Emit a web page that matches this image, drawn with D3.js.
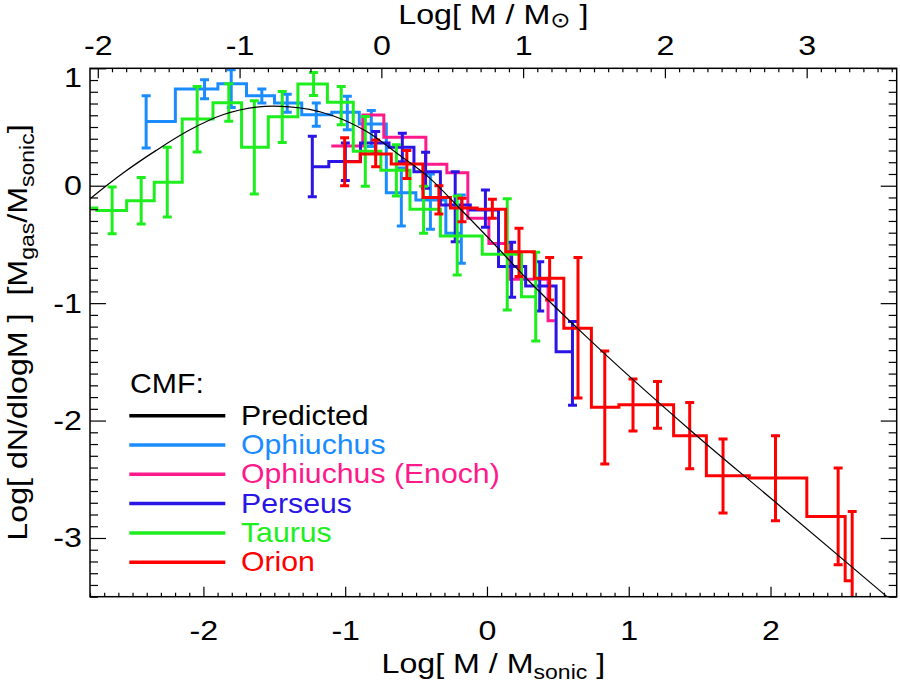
<!DOCTYPE html>
<html>
<head>
<meta charset="utf-8">
<script src="https://cdn.jsdelivr.net/npm/d3@7/dist/d3.min.js"></script>
<style>
  body { margin: 0; background: #fff; }
  svg { display: block; font-family: 'Liberation Sans', Arial, Helvetica, sans-serif; }
  text { white-space: pre; }
</style>
</head>
<body>
<svg id="chart" width="900" height="685"></svg>
<script>
// x: Log[M/Msonic] of each bin, y: Log[dN/dlogM], hi/lo: error bar ends
const ophX = [-2.404, -1.992, -1.804, -1.588, -1.409, -1.204, -0.985, -0.816, -0.604, -0.399, -0.181];
const ophY = [0.548, 0.823, 0.868, 0.766, 0.704, 0.604, 0.625, 0.525, -0.060, -0.122, -0.405];
const ophHi = [0.766, 0.902, 0.987, 0.823, 0.780, 0.704, 0.761, 0.641, 0.150, 0.100, -0.080];
const ophLo = [0.321, 0.740, 0.667, 0.704, 0.625, 0.506, 0.477, 0.335, -0.343, -0.370, -0.660];

const enoX = [-1.098, -0.950, -0.802, -0.653, -0.505, -0.357, -0.209, -0.061, 0.088, 0.236, 0.384, 0.478];
const enoY = [0.338, 0.338, 0.602, 0.412, 0.412, 0.182, 0.111, -0.277, -0.492, -0.797, -0.797, -1.149];

const perX = [-1.232, -0.999, -0.785, -0.597, -0.433, -0.224, -0.011, 0.174, 0.372, 0.603];
const perY = [0.162, 0.206, 0.363, 0.327, 0.119, -0.164, -0.207, -0.688, -0.854, -1.413];
const perHi = [0.421, 0.363, 0.461, 0.446, 0.284, 0.119, -0.037, -0.482, -0.647, -1.157];
const perLo = [-0.094, 0.044, 0.278, 0.204, -0.022, -0.477, -0.354, -0.950, -1.066, -1.870];

const tauX = [-2.860, -2.644, -2.439, -2.255, -2.044, -1.821, -1.641, -1.444, -1.223, -1.028, -0.858, -0.639, -0.447, -0.210, 0.143, 0.344];
const tauY = [-0.190, -0.210, -0.127, 0.029, 0.568, 0.707, 0.327, 0.587, 0.866, 0.710, 0.293, 0.132, -0.201, -0.428, -0.584, -0.945];
const tauHi = [0.010, -0.011, 0.071, 0.327, 0.846, 0.868, 0.723, 0.803, 0.965, 0.846, 0.590, 0.349, -0.005, -0.088, -0.110, -0.567];
const tauLo = [-0.390, -0.408, -0.326, -0.266, 0.287, 0.548, -0.071, 0.369, 0.769, 0.519, -0.005, -0.088, -0.405, -0.760, -1.058, -1.322];

const oriX = [-1.004, -0.785, -0.565, -0.339, -0.176, 0.038, 0.226, 0.442, 0.642, 0.831, 1.030, 1.203, 1.430, 1.665, 2.035, 2.477, 2.576];
const oriY = [0.204, 0.270, 0.185, -0.100, -0.190, -0.200, -0.562, -0.788, -1.214, -1.886, -1.866, -1.866, -2.130, -2.471, -2.490, -2.817, -3.364];
const oriHi = [0.409, 0.389, 0.300, 0.000, -0.107, -0.116, -0.363, -0.611, -0.611, -1.407, -1.645, -1.668, -1.847, -2.156, -2.130, -2.405, -2.774];
const oriLo = [0.000, 0.162, 0.062, -0.240, -0.306, -0.277, -0.774, -0.973, -1.807, -2.369, -2.088, -2.065, -2.411, -2.788, -2.854, -3.228, -3.900];

// predicted CMF
const predX = [-2.80, -2.569, -2.333, -2.098, -1.863, -1.627, -1.51, -1.392, -1.251, -1.087, -0.851, -0.616, -0.404, -0.193, 0.019, 0.289, 0.725, 1.43, 2.0, 2.822];
const predY = [-0.111, 0.106, 0.301, 0.474, 0.604, 0.670, 0.678, 0.672, 0.650, 0.596, 0.463, 0.259, 0.065, -0.192, -0.456, -0.803, -1.313, -2.078, -2.66, -3.5];

const xTicks = [-2, -1, 0, 1, 2];
const xTopTicks = [-2, -1, 0, 1, 2, 3];
const yTicks = [-3, -2, -1, 0, 1];
const legendNames = ['Predicted', 'Ophiuchus', 'Ophiuchus (Enoch)', 'Perseus', 'Taurus', 'Orion'];
const legendColors = ['#000000', '#1a8cff', '#ff1a8c', '#2a14e6', '#1eee1e', '#ff0000'];

// Log[Msonic / Msun]
const solarShift = 0.745;

const series = [
  { x: ophX, y: ophY, hi: ophHi, lo: ophLo, color: legendColors[1] },
  { x: enoX, y: enoY, color: legendColors[2] },
  { x: perX, y: perY, hi: perHi, lo: perLo, color: legendColors[3] },
  { x: tauX, y: tauY, hi: tauHi, lo: tauLo, color: legendColors[4] },
  { x: oriX, y: oriY, hi: oriHi, lo: oriLo, color: legendColors[5] }
];

const svg = d3.select('#chart');
const plotLeft = 90;
const plotRight = 896.7;
const plotTop = 68.3;
const plotBottom = 596.7;
const fontSize = 28;
const stretch = 'scale(1.15,1)';

const x = d3.scaleLinear().domain([-2.8, 2.89]).range([plotLeft, plotRight]);
const xTop = d3.scaleLinear().domain([-2.8 + solarShift, 2.89 + solarShift]).range([plotLeft, plotRight]);
const y = d3.scaleLinear().domain([-3.5, 1]).range([plotBottom, plotTop]);

svg.append('defs').append('clipPath').attr('id', 'plotArea')
  .append('rect').attr('x', plotLeft).attr('y', plotTop)
  .attr('width', plotRight - plotLeft).attr('height', plotBottom - plotTop);

const plot = svg.append('g').attr('clip-path', 'url(#plotArea)');
const cap = 4.5;

const stepLine = d3.line().x((d) => x(d[0])).y((d) => y(d[1])).curve(d3.curveStep);

series.forEach((s) => {
  const g = plot.append('g');
  g.append('path')
    .attr('d', stepLine(s.x.map((v, i) => [v, s.y[i]])))
    .attr('fill', 'none')
    .attr('stroke', s.color)
    .attr('stroke-width', 3);
  if (!s.hi) {
    return;
  }
  g.selectAll('path.err')
    .data(s.x.map((v, i) => ({ x: v, hi: s.hi[i], lo: s.lo[i] })))
    .enter()
    .append('path')
    .attr('class', 'err')
    .attr('d', (d) => {
      const px = x(d.x);
      const y1 = y(d.hi);
      const y2 = y(d.lo);
      return `M${px},${y1}V${y2}M${px - cap},${y1}H${px + cap}M${px - cap},${y2}H${px + cap}`;
    })
    .attr('fill', 'none')
    .attr('stroke', s.color)
    .attr('stroke-width', 3);
});

plot.append('path')
  .attr('d', d3.line().x((d) => x(d[0])).y((d) => y(d[1])).curve(d3.curveMonotoneX)(predX.map((v, i) => [v, predY[i]])))
  .attr('fill', 'none')
  .attr('stroke', '#000')
  .attr('stroke-width', 1.2);

// axes: minor ticks every 0.1, majors at integers
const tenths = (a, b) => d3.range(a, b + 1).map((i) => i / 10).filter((v) => Math.abs(v - Math.round(v)) > 1e-6);

const styleAxis = (g) => {
  g.attr('font-family', null).attr('font-size', fontSize);
  g.select('.domain').remove();
  g.selectAll('line').attr('stroke-width', 1.2);
  g.selectAll('text').attr('transform', stretch);
};

const addAxis = (axis, tx, ty) => svg.append('g').attr('transform', `translate(${tx},${ty})`).call(axis).call(styleAxis);

addAxis(d3.axisBottom(x).tickValues(tenths(-28, 28)).tickSize(-4).tickFormat(''), 0, plotBottom);
addAxis(d3.axisBottom(x).tickValues(xTicks).tickSize(-10).tickPadding(23).tickFormat((d) => String(d)), 0, plotBottom);
addAxis(d3.axisTop(xTop).tickValues(tenths(-20, 36)).tickSize(-4).tickFormat(''), 0, plotTop);
addAxis(d3.axisTop(xTop).tickValues(xTopTicks).tickSize(-10).tickPadding(13).tickFormat((d) => String(d)), 0, plotTop);
addAxis(d3.axisLeft(y).tickValues(tenths(-35, 10)).tickSize(-8).tickFormat(''), plotLeft, 0);
const yAxisG = addAxis(d3.axisLeft(y).tickValues(yTicks).tickSize(-16).tickPadding(7).tickFormat((d) => String(d)), plotLeft, 0);
addAxis(d3.axisRight(y).tickValues(tenths(-35, 10)).tickSize(-8).tickFormat(''), plotRight, 0);
addAxis(d3.axisRight(y).tickValues(yTicks).tickSize(-16).tickFormat(''), plotRight, 0);

// the label at the top corner sits a little below its tick, as in the original
yAxisG.selectAll('.tick').filter((d) => d === 1).select('text').attr('transform', `translate(0,9) ${stretch}`);

svg.append('rect')
  .attr('x', plotLeft).attr('y', plotTop)
  .attr('width', plotRight - plotLeft).attr('height', plotBottom - plotTop)
  .attr('fill', 'none').attr('stroke', '#000').attr('stroke-width', 1.5);

// titles
const xTitle = svg.append('text')
  .attr('transform', `translate(${(plotLeft + plotRight) / 2},673) ${stretch}`)
  .attr('text-anchor', 'middle').attr('font-size', fontSize);
xTitle.append('tspan').text('Log[ M / M');
xTitle.append('tspan').attr('font-size', 20).attr('dy', 6).text('sonic');
xTitle.append('tspan').attr('dy', -6).text(' ]');

const topTitle = svg.append('text')
  .attr('transform', `translate(${(plotLeft + plotRight) / 2},24) ${stretch}`)
  .attr('text-anchor', 'middle').attr('font-size', fontSize);
topTitle.append('tspan').text('Log[ M / M');
topTitle.append('tspan').attr('font-family', 'DejaVu Sans').attr('font-size', 21).attr('dy', 3).text('\u2299');
topTitle.append('tspan').attr('dy', -3).text(' ]');

const yTitle = svg.append('text')
  .attr('transform', `translate(27,${(plotTop + plotBottom) / 2}) rotate(-90) ${stretch}`)
  .attr('text-anchor', 'middle').attr('font-size', fontSize);
yTitle.append('tspan').text('Log[ dN/dlogM ]  [M');
yTitle.append('tspan').attr('font-size', 20).attr('dy', 7).text('gas');
yTitle.append('tspan').attr('dy', -7).text('/M');
yTitle.append('tspan').attr('font-size', 20).attr('dy', 7).text('sonic');
yTitle.append('tspan').attr('dy', -7).text(']');

// legend
const legendStretch = 'scale(1.08,1)';
const legend = svg.append('g');
legend.append('text')
  .attr('transform', `translate(130,393) ${legendStretch}`)
  .attr('font-size', fontSize).text('CMF:');

const rows = legend.selectAll('g.row')
  .data(legendNames)
  .enter()
  .append('g')
  .attr('class', 'row')
  .attr('transform', (d, i) => `translate(0,${415.7 + i * 29.3})`);

rows.append('line')
  .attr('x1', 129.3).attr('x2', 225.3)
  .attr('stroke', (d, i) => legendColors[i])
  .attr('stroke-width', 3.5);

rows.append('text')
  .attr('transform', `translate(241,9) ${legendStretch}`)
  .attr('font-size', fontSize)
  .attr('fill', (d, i) => legendColors[i])
  .text((d) => d);
</script>
</body>
</html>
